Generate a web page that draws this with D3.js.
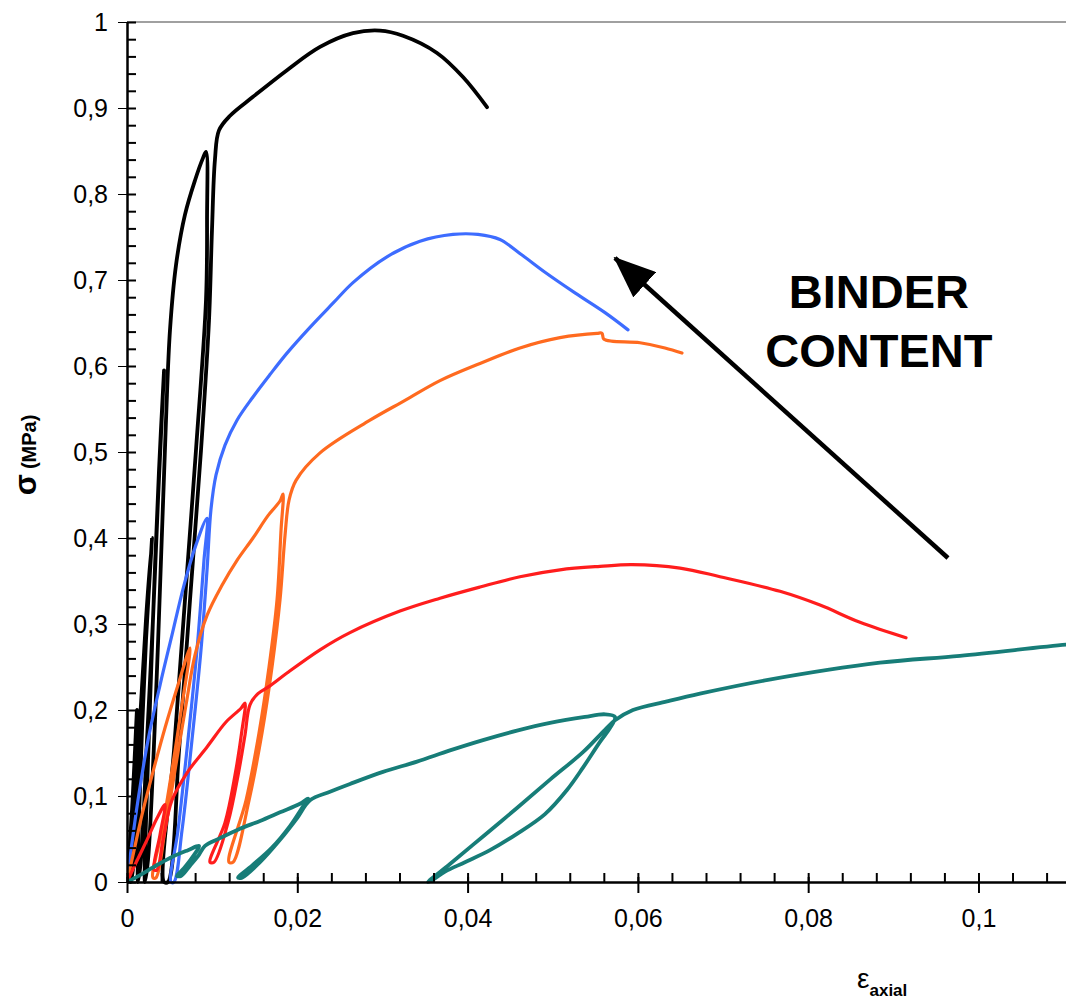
<!DOCTYPE html>
<html>
<head>
<meta charset="utf-8">
<script src="https://cdn.jsdelivr.net/npm/d3@7"></script>
<style>
  body { margin: 0; background: #fff; }
  svg { display: block; }
</style>
</head>
<body>
<script>
// strain (x) / stress in MPa (y), one array per binder content
var black = [[0,0],[0.00059,0.084],[0.00117,0.2],[0.00082,0.107],[0.00047,0],[0.00082,0.026],[0.00153,0.188],[0.00223,0.305],[0.00294,0.4],
  [0.00223,0.281],[0.00164,0.142],[0.00129,0],[0.00164,0.026],[0.00235,0.165],[0.00305,0.305],[0.00364,0.444],[0.00435,0.595],
  [0.00376,0.479],[0.00305,0.305],[0.00247,0.142],[0.00211,0],[0.00247,0.026],[0.00329,0.188],[0.00399,0.374],[0.00458,0.537],
  [0.00505,0.642],[0.00575,0.717],[0.00681,0.776],[0.00799,0.816],[0.00893,0.842],[0.00928,0.849],
  [0.0094,0.77],[0.00928,0.677],[0.0081,0.502],[0.00681,0.328],[0.00552,0.153],[0.00435,0],
  [0.00481,0],[0.00611,0.153],[0.0074,0.328],[0.00869,0.502],[0.00963,0.653],[0.00998,0.758],[0.01033,0.84],[0.0108,0.874],
  [0.0121,0.891],[0.0148,0.913],[0.01879,0.944],[0.02267,0.971],[0.02654,0.987],[0.02971,0.99],[0.03241,0.984],
  [0.03641,0.964],[0.03946,0.936],[0.04228,0.901]];

var blue = [[0,0],[0.00047,0.037],[0.00129,0.095],[0.00247,0.165],[0.00388,0.229],[0.00528,0.287],[0.00669,0.345],[0.0081,0.392],
  [0.0094,0.423],[0.00904,0.374],[0.00822,0.27],[0.00716,0.165],[0.00599,0.06],[0.00517,0],
  [0.00552,0],[0.00646,0.06],[0.00763,0.165],[0.00869,0.27],[0.0094,0.363],[0.00986,0.433],[0.01045,0.473],[0.01151,0.508],
  [0.01292,0.537],[0.0148,0.564],[0.01679,0.59],[0.01879,0.615],[0.02149,0.645],[0.02419,0.673],[0.02654,0.697],
  [0.03053,0.727],[0.03441,0.745],[0.03829,0.753],[0.04122,0.753],[0.0438,0.747],[0.04639,0.729],[0.04909,0.709],
  [0.05261,0.685],[0.05614,0.662],[0.05884,0.642]];

var orange = [[0,0],[0.0007,0.031],[0.00176,0.078],[0.00305,0.128],[0.00446,0.179],[0.00599,0.229],[0.0074,0.272],
  [0.00646,0.206],[0.00528,0.13],[0.00411,0.06],[0.00305,0.005],
  [0.00341,0.005],[0.00446,0.06],[0.00564,0.13],[0.00693,0.206],[0.00799,0.264],[0.0094,0.31],[0.01116,0.345],
  [0.01292,0.374],[0.0148,0.4],[0.01656,0.426],[0.01797,0.443],[0.01832,0.451],
  [0.01809,0.409],[0.01762,0.328],[0.01668,0.25],[0.0155,0.173],[0.01398,0.095],[0.01198,0.023],
  [0.01245,0.023],[0.01433,0.095],[0.01585,0.173],[0.01703,0.25],[0.01797,0.328],[0.01856,0.403],[0.01903,0.444],
  [0.01985,0.467],[0.02267,0.499],[0.02854,0.537],[0.03265,0.56],[0.03676,0.583],[0.04146,0.603],[0.04615,0.621],
  [0.05085,0.633],[0.0552,0.638],[0.05578,0.638],[0.05602,0.631],[0.06025,0.627],[0.06318,0.621],[0.06518,0.615]];

var red = [[0,0],[0.00094,0.02],[0.00235,0.049],[0.00352,0.074],[0.00446,0.09],
  [0.00388,0.055],[0.00317,0.014],[0.00352,0.014],[0.00423,0.049],[0.00528,0.095],[0.00705,0.127],[0.0094,0.157],
  [0.01163,0.186],[0.01339,0.202],[0.01386,0.208],
  [0.01351,0.177],[0.01268,0.124],[0.01151,0.069],[0.00975,0.023],
  [0.01022,0.023],[0.01186,0.069],[0.01304,0.124],[0.01386,0.171],[0.01444,0.206],[0.01538,0.219],[0.01679,0.228],
  [0.01879,0.243],[0.02267,0.27],[0.02619,0.29],[0.03206,0.315],[0.03676,0.33],[0.04146,0.343],[0.04615,0.355],
  [0.05085,0.363],[0.05555,0.367],[0.05931,0.369],[0.06494,0.365],[0.06964,0.355],[0.07669,0.338],[0.08139,0.322],
  [0.08608,0.302],[0.09149,0.284]];

var teal = [[0,0],[0.00153,0.008],[0.00305,0.017],[0.00505,0.028],[0.00716,0.037],[0.00846,0.042],
  [0.00763,0.028],[0.00669,0.016],[0.00587,0.007],[0.00634,0.007],[0.0074,0.019],[0.00834,0.03],[0.00916,0.042],
  [0.01092,0.051],[0.01327,0.062],[0.01562,0.071],[0.01797,0.081],[0.02032,0.091],[0.02126,0.097],
  [0.02055,0.086],[0.01914,0.065],[0.01703,0.04],[0.01468,0.019],[0.01304,0.005],
  [0.01351,0.005],[0.01562,0.023],[0.01797,0.049],[0.01996,0.074],[0.02149,0.095],[0.02384,0.105],[0.02619,0.114],
  [0.03006,0.128],[0.03406,0.14],[0.03793,0.153],[0.04181,0.165],[0.0458,0.176],[0.04968,0.185],[0.05379,0.192],
  [0.05614,0.195],[0.05731,0.192],
  [0.05672,0.179],[0.05555,0.163],[0.05355,0.133],[0.05167,0.107],[0.04909,0.079],[0.0458,0.056],[0.04263,0.037],
  [0.03969,0.023],[0.03735,0.012],[0.03582,0.002],
  [0.03535,0],[0.03793,0.021],[0.04181,0.053],[0.0458,0.086],[0.04968,0.119],[0.05355,0.151],[0.05614,0.177],
  [0.05731,0.188],[0.05942,0.2],[0.06342,0.21],[0.06729,0.219],[0.07528,0.235],[0.08843,0.255],[0.09783,0.263],
  [0.11028,0.276],[0.1143,0.279]];

var yTicks = [0, 0.1, 0.2, 0.3, 0.4, 0.5, 0.6, 0.7, 0.8, 0.9, 1];
var xTicks = [0, 0.02, 0.04, 0.06, 0.08, 0.1];

var W = 1066, H = 1004;
var x = d3.scaleLinear().domain([0, 0.11028]).range([127, 1066]);
var y = d3.scaleLinear().domain([0, 1]).range([882, 22]);

var svg = d3.select("body").append("svg")
    .attr("width", W)
    .attr("height", H)
    .style("font-family", "'Liberation Sans', Arial, sans-serif");

var comma = function(d) { return String(+d.toFixed(2)).replace(".", ","); };

// top frame line
svg.append("line")
    .attr("x1", 127).attr("x2", W)
    .attr("y1", y(1)).attr("y2", y(1))
    .attr("stroke", "#a0a0a0").attr("stroke-width", 2);

svg.append("defs").append("clipPath").attr("id", "plot")
  .append("rect").attr("x", 127).attr("y", 16).attr("width", W - 127).attr("height", 872);

var line = d3.line()
    .x(function(d) { return x(d[0]); })
    .y(function(d) { return y(d[1]); })
    .curve(d3.curveCatmullRom.alpha(0.5));

var series = [
  {data: black,  color: "#000000", w: 3.8},
  {data: blue,   color: "#3d6cff", w: 3.2},
  {data: orange, color: "#ff6a1f", w: 3.2},
  {data: red,    color: "#ff1d1d", w: 3.2},
  {data: teal,   color: "#177d78", w: 3.8}
];

svg.append("g").attr("clip-path", "url(#plot)")
  .selectAll("path").data(series).enter().append("path")
    .attr("d", function(s) { return line(s.data); })
    .attr("fill", "none")
    .attr("stroke", function(s) { return s.color; })
    .attr("stroke-width", function(s) { return s.w; })
    .attr("stroke-linejoin", "round")
    .attr("stroke-linecap", "round");

// y axis: major ticks crossing, minor ticks inside
var yAxis = svg.append("g")
    .attr("transform", "translate(127,0)")
    .call(d3.axisLeft(y).tickValues(yTicks).tickSize(9).tickSizeOuter(0).tickPadding(10).tickFormat(comma));
yAxis.selectAll(".tick line").attr("x2", -9).attr("x1", 9);
yAxis.selectAll("text").attr("font-size", 25).attr("fill", "#000").attr("font-family", "'Liberation Sans', Arial, sans-serif");
yAxis.select(".domain").attr("stroke-width", 2.5);

svg.append("g")
    .attr("transform", "translate(127,0)")
    .call(d3.axisRight(y).tickValues(d3.range(0, 51).map(function(i) { return i * 0.02; })).tickSize(9).tickFormat(""))
    .call(function(g) { g.select(".domain").remove(); })
    .selectAll("line").attr("stroke-width", 2);

// x axis
var xAxis = svg.append("g")
    .attr("transform", "translate(0,882)")
    .call(d3.axisBottom(x).tickValues(xTicks).tickSize(11).tickSizeOuter(0).tickPadding(16).tickFormat(comma));
xAxis.selectAll(".tick line").attr("y1", -5).attr("stroke-width", 2);
xAxis.selectAll("text").attr("font-size", 25).attr("fill", "#000").attr("font-family", "'Liberation Sans', Arial, sans-serif");
xAxis.select(".domain").attr("stroke-width", 2.5);

svg.append("g")
    .attr("transform", "translate(0,882)")
    .call(d3.axisTop(x).tickValues(d3.range(0, 28).map(function(i) { return i * 0.004; })).tickSize(9).tickFormat(""))
    .call(function(g) { g.select(".domain").remove(); })
    .selectAll("line").attr("stroke-width", 2);

// axis titles
var yTitle = svg.append("text")
    .attr("transform", "translate(36,455) rotate(-90)")
    .attr("text-anchor", "middle")
    .attr("font-weight", "bold");
yTitle.append("tspan").attr("font-size", 31).text("σ");
yTitle.append("tspan").attr("font-size", 20).attr("dx", 5).text("(MPa)");

var xTitle = svg.append("text")
    .attr("x", 857).attr("y", 988)
    .attr("font-weight", "bold");
xTitle.append("tspan").attr("font-size", 28).attr("font-weight", "normal").text("ε");
xTitle.append("tspan").attr("font-size", 17).attr("dy", 8).text("axial");

// annotation
svg.append("defs").append("marker")
    .attr("id", "head")
    .attr("viewBox", "0 0 42 34")
    .attr("refX", 40).attr("refY", 17)
    .attr("markerWidth", 42).attr("markerHeight", 34)
    .attr("markerUnits", "userSpaceOnUse")
    .attr("orient", "auto")
  .append("path").attr("d", "M0,0L42,17L0,34Z").attr("fill", "#000");

svg.append("line")
    .attr("x1", x(0.09642)).attr("y1", y(0.3767))
    .attr("x2", x(0.05731)).attr("y2", y(0.7256))
    .attr("stroke", "#000").attr("stroke-width", 4.5)
    .attr("marker-end", "url(#head)");

svg.selectAll(".note").data(["BINDER", "CONTENT"]).enter().append("text")
    .attr("class", "note")
    .attr("x", x(0.08831))
    .attr("y", function(d, i) { return y(0.6674) + i * 59; })
    .attr("text-anchor", "middle")
    .attr("font-size", 47)
    .attr("font-weight", "bold")
    .text(function(d) { return d; });
</script>
</body>
</html>
